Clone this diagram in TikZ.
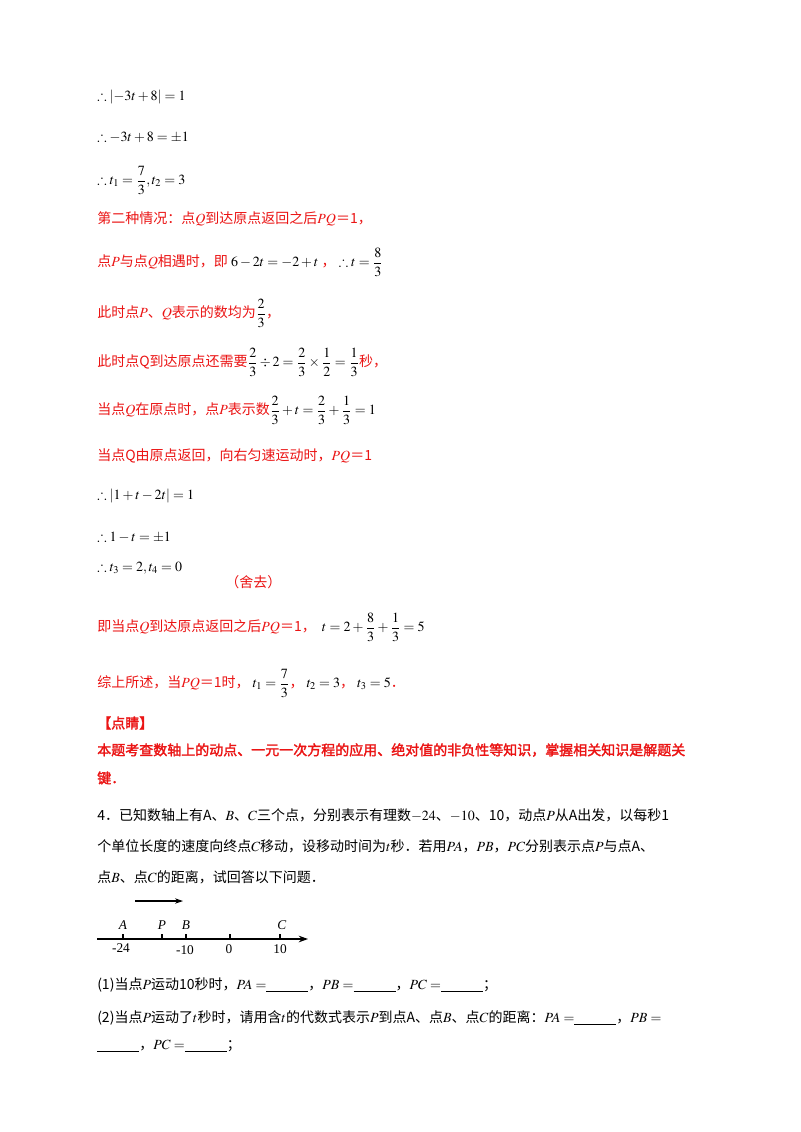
\documentclass[tikz,border=0pt]{standalone}
\usepackage{amsmath,amssymb}
\usepackage{mathptmx}
\usepackage{fontspec}
\usetikzlibrary{arrows.meta}
\setmainfont{Liberation Serif}
\newfontfamily\cjk{Noto Sans CJK SC}
\newfontfamily\cjkb{Noto Sans CJK SC}[FakeBold=2]
\definecolor{rd}{RGB}{235,20,20}
\begin{document}
\begin{tikzpicture}[x=0.75pt,y=-0.75pt,
  t/.style={anchor=west,inner sep=0pt,font=\fontsize{10.5}{12}\selectfont\cjk},
  r/.style={t,text=rd},
  rb/.style={t,text=rd,font=\fontsize{10.5}{12}\selectfont\cjkb},
  lab/.style={inner sep=0pt,font=\fontsize{10}{11}\selectfont}]
\useasboundingbox[fill=white] (0,0) rectangle (800,1132);
\node[t] (l1) at (97,97) {$\therefore\left|-3t+8\right|=1$};
\node[t] (l2) at (97,137) {$\therefore -3t+8=\pm1$};
\node[t] (l3) at (97,180) {$\therefore t_1=\dfrac{7}{3},t_2=3$};
\node[r] (l4) at (97,219) {第二种情况：点$Q$到达原点返回之后$PQ$＝1，};
\node[r] (l5) at (97,262) {点$P$与点$Q$相遇时，即\ \textcolor{black}{$6-2t=-2+t$}\ ，\ \textcolor{black}{$\therefore t=\dfrac{8}{3}$}};
\node[r] (l6) at (97,313) {此时点$P$、$Q$表示的数均为\textcolor{black}{$\dfrac{2}{3}$}，};
\node[r] (l7) at (97,362) {此时点Q到达原点还需要\textcolor{black}{$\dfrac{2}{3}\div2=\dfrac{2}{3}\times\dfrac{1}{2}=\dfrac{1}{3}$}秒，};
\node[r] (l8) at (97,410) {当点$Q$在原点时，点$P$表示数\textcolor{black}{$\dfrac{2}{3}+t=\dfrac{2}{3}+\dfrac{1}{3}=1$}};
\node[r] (l9) at (97,456) {当点Q由原点返回，向右匀速运动时，$PQ$＝1};
\node[t] (l10) at (97,496) {$\therefore\left|1+t-2t\right|=1$};
\node[t] (l11) at (97,537) {$\therefore 1-t=\pm1$};
\node[t] (l12) at (97,568) {$\therefore t_3=2,t_4=0$};
\node[r] (l12b) at (225,582) {（舍去）};
\node[r] (l13) at (97,627) {即当点$Q$到达原点返回之后$PQ$＝1，\ \ \textcolor{black}{$t=2+\dfrac{8}{3}+\dfrac{1}{3}=5$}};
\node[r] (l14) at (97,683) {综上所述，当$PQ$＝1时，\ \textcolor{black}{$t_1=\dfrac{7}{3}$}，\ \textcolor{black}{$t_2=3$}，\ \textcolor{black}{$t_3=5$}．};
\node[rb] (l15) at (97,723) {【点睛】};
\node[rb] (l16) at (97,750) {本题考查数轴上的动点、一元一次方程的应用、绝对值的非负性等知识，掌握相关知识是解题关};
\node[rb] (l17) at (97,778) {键．};
\node[t] (l18) at (97,815) {4．已知数轴上有A、$B$、$C$三个点，分别表示有理数$-24$、$-10$、10，动点$P$从A出发，以每秒1};
\node[t] (l19) at (97,846) {个单位长度的速度向终点$C$移动，设移动时间为$t$秒．若用$PA$，$PB$，$PC$分别表示点$P$与点A、};
\node[t] (l20) at (97,877) {点$B$、点$C$的距离，试回答以下问题．};
% number line
\coordinate (s) at (97,939);
\coordinate (e) at (308,939);
\draw[line width=0.9pt,-{Stealth[length=7pt,width=5pt]}] (s) -- (e);
\coordinate (a0) at (135,901);
\coordinate (a1) at (183,901);
\draw[line width=0.8pt,-{Stealth[length=6pt,width=4pt]}] (a0) -- (a1);
\foreach \x in {123,162,186,230,280}{
  \draw[line width=0.8pt] (\x,934) -- (\x,939);}
\node[lab] (A) at (123,925) {\textit{A}};
\node[lab] (P) at (162,925) {\textit{P}};
\node[lab] (B) at (186,925) {\textit{B}};
\node[lab] (C) at (282,925) {\textit{C}};
\node[lab] (m24) at (121,948) {-24};
\node[lab] (m10) at (185,950) {-10};
\node[lab] (z) at (229,949) {0};
\node[lab] (ten) at (280,949) {10};
\node[t] (l21) at (97,985) {(1)当点$P$运动10秒时，$PA=$\underline{\hspace{3em}}，$PB=$\underline{\hspace{3em}}，$PC=$\underline{\hspace{3em}}；};
\node[t] (l22) at (97,1018) {(2)当点$P$运动了$t$秒时，请用含$t$的代数式表示$P$到点A、点$B$、点$C$的距离：$PA=$\underline{\hspace{3em}}，$PB=$};
\node[t] (l23) at (97,1046) {\underline{\hspace{3em}}，$PC=$\underline{\hspace{3em}}；};
\end{tikzpicture}
\end{document}
